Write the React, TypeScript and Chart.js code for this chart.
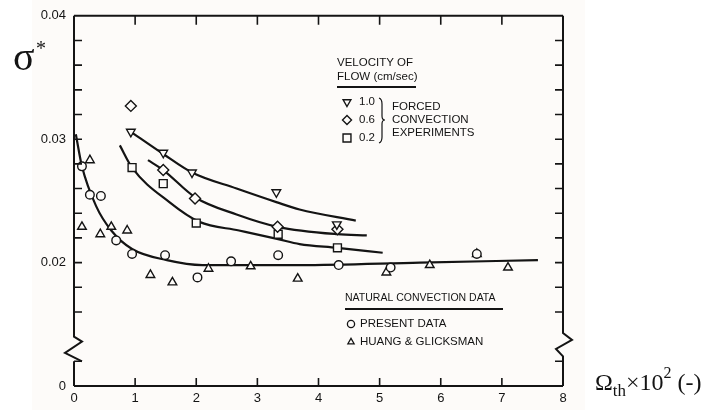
import React, { useEffect, useRef } from "react";
import { Chart, registerables } from "chart.js";

Chart.register(...registerables);

// ---- data ----
const xTicks = [0, 1, 2, 3, 4, 5, 6, 7, 8];
const yLabeled = [0.01, 0.02, 0.03, 0.04];
const yLabelText = ["0", "0.02", "0.03", "0.04"];

// natural convection: present data (circles)
const presentX = [0.13, 0.26, 0.44, 0.69, 0.95, 1.49, 2.02, 2.57, 3.34, 4.33, 5.18, 6.59];
const presentY = [0.0278, 0.0255, 0.0254, 0.0218, 0.0207, 0.0206, 0.0188, 0.0201, 0.0206, 0.0198, 0.0196, 0.0207];

// natural convection: Huang & Glicksman (triangles)
const huangX = [0.26, 0.13, 0.43, 0.61, 0.87, 1.25, 1.61, 2.2, 2.89, 3.66, 5.11, 5.82, 6.59, 7.1];
const huangY = [0.0283, 0.0229, 0.0223, 0.0229, 0.0226, 0.019, 0.0184, 0.0195, 0.0197, 0.0187, 0.0192, 0.0198, 0.0207, 0.0196];

// forced convection experiments
const v10X = [0.93, 1.46, 1.93, 3.31, 4.3];
const v10Y = [0.0306, 0.0289, 0.0273, 0.0257, 0.0231];
const v06X = [0.93, 1.46, 1.98, 3.33, 4.31];
const v06Y = [0.0327, 0.0275, 0.0252, 0.0229, 0.0227];
const v02X = [0.95, 1.46, 2.0, 3.34, 4.31];
const v02Y = [0.0277, 0.0264, 0.0232, 0.0223, 0.0212];

// drawn curves
const fit10X = [0.9, 1.46, 1.93, 2.66, 3.31, 3.69, 4.61];
const fit10Y = [0.0307, 0.0288, 0.0273, 0.026, 0.0249, 0.0243, 0.0234];
const fit06X = [1.21, 1.46, 1.98, 2.66, 3.33, 4.31, 4.79];
const fit06Y = [0.0283, 0.0275, 0.0253, 0.0239, 0.0229, 0.0223, 0.0222];
const fit02X = [0.75, 0.95, 1.56, 2.05, 2.7, 3.34, 3.69, 4.31, 5.05];
const fit02Y = [0.0295, 0.0277, 0.0249, 0.0233, 0.0226, 0.0219, 0.0215, 0.0212, 0.0208];
const fitNatX = [0.03, 0.13, 0.36, 0.61, 0.95, 1.52, 2.1, 3.69, 5.66, 7.59];
const fitNatY = [0.0304, 0.0278, 0.0246, 0.0226, 0.0211, 0.0202, 0.0198, 0.0198, 0.02, 0.0202];

const forcedLegend = ["1.0", "0.6", "0.2"];
const forcedText = ["FORCED", "CONVECTION", "EXPERIMENTS"];
const naturalLegend = ["PRESENT DATA", "HUANG & GLICKSMAN"];

const zip = (xs: number[], ys: number[]) => xs.map((x, i) => ({ x, y: ys[i] }));

const INK = "#141414";
const PAPER = "#fdfbf9";
const SANS = '"Liberation Sans", Arial, sans-serif';
const SERIF = '"Liberation Serif", "Times New Roman", serif';

function sym(ctx: CanvasRenderingContext2D, kind: string, x: number, y: number, r: number) {
  ctx.beginPath();
  if (kind === "circle") {
    ctx.arc(x, y, r, 0, Math.PI * 2);
  } else if (kind === "up") {
    ctx.moveTo(x, y - r);
    ctx.lineTo(x + r * 0.866, y + r * 0.5);
    ctx.lineTo(x - r * 0.866, y + r * 0.5);
    ctx.closePath();
  } else if (kind === "down") {
    ctx.moveTo(x, y + r);
    ctx.lineTo(x + r * 0.866, y - r * 0.5);
    ctx.lineTo(x - r * 0.866, y - r * 0.5);
    ctx.closePath();
  } else if (kind === "diamond") {
    ctx.moveTo(x, y - r);
    ctx.lineTo(x + r, y);
    ctx.lineTo(x, y + r);
    ctx.lineTo(x - r, y);
    ctx.closePath();
  } else {
    const h = r * 0.72;
    ctx.rect(x - h, y - h, 2 * h, 2 * h);
  }
  ctx.fillStyle = PAPER;
  ctx.fill();
  ctx.stroke();
}

const framePlugin = {
  id: "frame",
  beforeDraw(chart: any) {
    const ctx = chart.ctx as CanvasRenderingContext2D;
    ctx.save();
    ctx.fillStyle = "#ffffff";
    ctx.fillRect(0, 0, chart.width, chart.height);
    ctx.fillStyle = PAPER;
    ctx.fillRect(32, 0, 553, chart.height);
    ctx.restore();
  },
  afterDraw(chart: any) {
    const ctx = chart.ctx as CanvasRenderingContext2D;
    const { left, right, top, bottom } = chart.chartArea;
    const xs = chart.scales.x;
    const ys = chart.scales.y;
    ctx.save();
    ctx.strokeStyle = INK;
    ctx.lineCap = "butt";
    ctx.lineJoin = "miter";

    // frame with breaks
    const lz1 = ys.getPixelForValue(0.0140);
    const lz2 = ys.getPixelForValue(0.0120);
    const rz1 = ys.getPixelForValue(0.0143);
    const rz2 = ys.getPixelForValue(0.0124);
    ctx.lineWidth = 2;
    ctx.beginPath();
    ctx.moveTo(left, top);
    ctx.lineTo(right, top);
    ctx.moveTo(left, bottom);
    ctx.lineTo(right, bottom);
    ctx.moveTo(left, top);
    ctx.lineTo(left, lz1);
    ctx.lineTo(left + 8, lz1 + 5);
    ctx.lineTo(left - 9, (lz1 + lz2) / 2 + 4);
    ctx.lineTo(left + 8, lz2);
    ctx.moveTo(left, lz2);
    ctx.lineTo(left, bottom);
    ctx.moveTo(right, top);
    ctx.lineTo(right, rz1);
    ctx.lineTo(right + 9, rz1 + 7);
    ctx.lineTo(right - 7, rz1 + 16);
    ctx.lineTo(right, rz2);
    ctx.lineTo(right, bottom);
    ctx.stroke();

    // tick marks (inward)
    ctx.lineWidth = 1.6;
    ctx.beginPath();
    for (const t of ys.ticks) {
      const v = Math.round(t.value * 1000);
      if (v <= 10 || v >= 40 || v === 14) continue;
      const py = ys.getPixelForValue(t.value);
      ctx.moveTo(left, py);
      ctx.lineTo(left + 8, py);
      ctx.moveTo(right, py);
      ctx.lineTo(right - 8, py);
    }
    for (const t of xs.ticks) {
      if (t.value <= 0 || t.value >= 8) continue;
      const px = xs.getPixelForValue(t.value);
      ctx.moveTo(px, bottom);
      ctx.lineTo(px, bottom - 8);
      ctx.moveTo(px, top);
      ctx.lineTo(px, top + 9);
    }
    ctx.stroke();

    // forced convection legend
    ctx.fillStyle = INK;
    ctx.textBaseline = "middle";
    ctx.textAlign = "left";
    ctx.font = `11.5px ${SANS}`;
    ctx.fillText("VELOCITY OF", 337, 63);
    ctx.fillText("FLOW (cm/sec)", 337, 77);
    ctx.lineWidth = 2;
    ctx.beginPath();
    ctx.moveTo(337, 87);
    ctx.lineTo(416, 87);
    ctx.stroke();
    ctx.lineWidth = 1.4;
    const kinds = ["down", "diamond", "square"];
    forcedLegend.forEach((lab, i) => {
      const y = 102 + i * 18;
      sym(ctx, kinds[i], 347, y, kinds[i] === "square" ? 5.5 : 4.5);
      ctx.fillStyle = INK;
      ctx.fillText(lab, 359, y);
    });
    // brace
    ctx.lineWidth = 1.2;
    ctx.beginPath();
    ctx.moveTo(379, 98);
    ctx.quadraticCurveTo(382, 99, 382, 104);
    ctx.lineTo(382, 116);
    ctx.quadraticCurveTo(382, 120, 385, 120);
    ctx.quadraticCurveTo(382, 120, 382, 124);
    ctx.lineTo(382, 137);
    ctx.quadraticCurveTo(382, 142, 379, 143);
    ctx.stroke();
    forcedText.forEach((t, i) => ctx.fillText(t, 392, 107 + i * 13));

    // natural convection legend
    ctx.font = `10.5px ${SANS}`;
    ctx.fillText("NATURAL CONVECTION DATA", 345, 298);
    ctx.lineWidth = 2;
    ctx.beginPath();
    ctx.moveTo(345, 309);
    ctx.lineTo(503, 309);
    ctx.stroke();
    ctx.font = `11.5px ${SANS}`;
    ctx.lineWidth = 1.3;
    const nk = ["circle", "up"];
    naturalLegend.forEach((t, i) => {
      const y = 324 + i * 18;
      sym(ctx, nk[i], 351, y, 3.6);
      ctx.fillStyle = INK;
      ctx.fillText(t, 360, y);
    });

    // axis titles
    ctx.textBaseline = "alphabetic";
    ctx.font = `40px ${SERIF}`;
    ctx.fillText("σ", 13, 70);
    ctx.font = `20px ${SERIF}`;
    ctx.fillText("*", 36, 55);

    let x = 595;
    const base = 390;
    const part = (s: string, size: number, dy: number) => {
      ctx.font = `${size}px ${SERIF}`;
      ctx.fillText(s, x, base + dy);
      x += ctx.measureText(s).width;
    };
    part("Ω", 24, 0);
    part("th", 17, 6);
    part("×", 24, 0);
    part("10", 24, 0);
    part("2", 16, -12);
    part(" (-)", 24, 0);
    ctx.restore();
  },
};

const markerBase = {
  showLine: false,
  pointBorderColor: INK,
  pointBackgroundColor: PAPER,
  pointBorderWidth: 1.4,
  order: 0,
};
const curveBase = {
  showLine: true,
  borderColor: INK,
  borderWidth: 2.2,
  pointRadius: 0,
  cubicInterpolationMode: "monotone" as const,
  order: 1,
};

export default function App() {
  const ref = useRef<HTMLCanvasElement | null>(null);
  useEffect(() => {
    if (!ref.current) return;
    const chart = new Chart(ref.current, {
      type: "scatter",
      data: {
        datasets: [
          { ...markerBase, label: "Present data", data: zip(presentX, presentY), pointStyle: "circle", pointRadius: 4.3 },
          { ...markerBase, label: "Huang & Glicksman", data: zip(huangX, huangY), pointStyle: "triangle", pointRadius: 5 },
          { ...markerBase, label: "1.0 cm/sec", data: zip(v10X, v10Y), pointStyle: "triangle", pointRotation: 180, pointRadius: 5 },
          { ...markerBase, label: "0.6 cm/sec", data: zip(v06X, v06Y), pointStyle: "rectRot", pointRadius: 5.5 },
          { ...markerBase, label: "0.2 cm/sec", data: zip(v02X, v02Y), pointStyle: "rect", pointRadius: 5.6 },
          { ...curveBase, label: "fit 1.0", data: zip(fit10X, fit10Y) },
          { ...curveBase, label: "fit 0.6", data: zip(fit06X, fit06Y) },
          { ...curveBase, label: "fit 0.2", data: zip(fit02X, fit02Y) },
          { ...curveBase, label: "fit natural", data: zip(fitNatX, fitNatY) },
        ] as any,
      },
      options: {
        animation: false,
        responsive: false,
        maintainAspectRatio: false,
        devicePixelRatio: 1,
        layout: { padding: { top: 9, right: 154, left: 0, bottom: 0 } },
        plugins: { legend: { display: false }, tooltip: { enabled: false } },
        scales: {
          x: {
            type: "linear",
            min: xTicks[0],
            max: xTicks[xTicks.length - 1],
            grid: { display: false, drawTicks: false },
            border: { display: false },
            afterBuildTicks: (s: any) => {
              s.ticks = xTicks.map((v) => ({ value: v }));
            },
            ticks: {
              autoSkip: false,
              maxRotation: 0,
              padding: 5,
              color: INK,
              font: { family: SANS, size: 13 },
              callback: (v: any) => String(v),
            },
            afterFit: (s: any) => {
              s.height = 24;
            },
          },
          y: {
            type: "linear",
            min: 0.01,
            max: 0.04,
            grid: { display: false, drawTicks: false },
            border: { display: false },
            ticks: {
              stepSize: 0.002,
              autoSkip: false,
              padding: 8,
              color: INK,
              font: { family: SANS, size: 13 },
              callback: (v: any) => {
                const i = yLabeled.findIndex((l) => Math.abs(l - Number(v)) < 1e-6);
                return i >= 0 ? yLabelText[i] : "";
              },
            },
            afterFit: (s: any) => {
              s.width = 74;
            },
          },
        },
      },
      plugins: [framePlugin],
    });
    return () => chart.destroy();
  }, []);
  return (
    <div style={{ position: "fixed", left: 0, top: 0, width: 717, height: 410 }}>
      <canvas ref={ref} width={717} height={410} style={{ display: "block", width: 717, height: 410 }} />
    </div>
  );
}
